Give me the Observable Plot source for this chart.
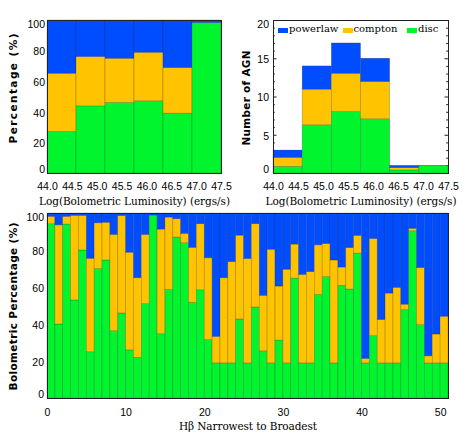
<!DOCTYPE html>
<html><head><meta charset="utf-8">
<script src="https://cdn.jsdelivr.net/npm/d3@7"></script>
<script src="https://cdn.jsdelivr.net/npm/@observablehq/plot@0.6"></script>
<style>
html,body{margin:0;padding:0;background:#fff;}
#wrap{position:relative;width:471px;height:436px;overflow:hidden;background:#fff;}
#wrap svg{position:absolute;left:0;top:0;}
.leg{position:absolute;font-family:"DejaVu Serif",serif;font-size:10px;line-height:10px;white-space:nowrap;color:#000;}
.sw{position:absolute;width:10px;height:5px;}
</style></head><body><div id="wrap"></div>
<script>
// ---------- shared ----------
const seriesNames = ["powerlaw", "compton", "disc"];
const seriesColors = ["#004cff", "#ffc300", "#00f52c"];
const stackOrder = ["disc", "compton", "powerlaw"];

// ---------- top panels: luminosity bins ----------
const lumTickLabels = ["44.0", "44.5", "45.0", "45.5", "46.0", "46.5", "47.0", "47.5"];
const lumBins = [0, 1, 2, 3, 4, 5];
// percentage panel
const lumPctDisc     = [27.2, 43.9, 46.1, 47.2, 39.1, 98.3];
const lumPctCompton  = [38.0, 32.2, 28.9, 31.7, 29.8, 0.0];
const lumPctPowerlaw = [34.8, 23.9, 25.0, 21.1, 31.1, 1.7];
// number of AGN panel
const lumNumDisc     = [0.87, 6.30, 8.04, 7.09, 0.40, 0.98];
const lumNumCompton  = [1.17, 4.66, 5.00, 4.87, 0.30, 0.00];
const lumNumPowerlaw = [0.96, 3.04, 3.96, 3.04, 0.30, 0.02];
const numMajorTicks = [5, 10, 15];
const numMinorTicks = [1, 2, 3, 4, 6, 7, 8, 9, 11, 12, 13, 14, 16, 17, 18, 19];

// ---------- bottom panel: Hbeta narrowest to broadest ----------
const hbDisc = [94.2, 40.0, 94.0, 53.0, 80.0, 25.0, 70.0, 74.6, 36.4, 46.0,
  26.0, 22.0, 51.0, 98.9, 34.8, 58.7, 87.0, 84.0, 51.7, 58.5,
  31.6, 19.0, 19.0, 19.0, 42.7, 19.0, 49.2, 25.5, 19.0, 31.3,
  19.0, 64.8, 19.0, 19.0, 56.0, 65.6, 19.0, 60.9, 58.9, 78.3,
  19.0, 33.7, 19.0, 19.0, 19.0, 47.8, 90.4, 39.7, 19.0, 19.0, 19.0];
const hbCompton = [4.0, 53.6, 4.2, 45.7, 18.7, 50.5, 24.7, 20.4, 52.0, 52.6,
  52.8, 43.0, 37.4, 0.0, 56.5, 39.1, 9.9, 5.0, 29.7, 35.7,
  44.2, 14.3, 46.0, 54.7, 45.3, 56.4, 45.0, 30.0, 61.4, 29.2,
  50.6, 18.4, 47.8, 49.3, 26.8, 17.9, 55.6, 9.9, 22.4, 9.6,
  2.4, 52.5, 23.4, 37.7, 40.8, 2.9, 1.3, 30.8, 3.8, 15.6, 25.2];
const hbPowerlaw = [1.8, 6.4, 1.8, 1.3, 1.3, 24.5, 5.3, 5.0, 11.6, 1.4,
  21.2, 35.0, 11.6, 1.1, 8.7, 2.2, 3.1, 11.0, 18.6, 5.8,
  24.2, 66.7, 35.0, 26.3, 12.0, 24.6, 5.8, 44.5, 19.6, 39.5,
  30.4, 16.8, 33.2, 31.7, 17.2, 16.5, 25.4, 29.2, 18.7, 12.1,
  78.6, 13.8, 57.6, 43.3, 40.2, 49.3, 8.3, 29.5, 77.2, 65.4, 55.8];
const hbTicks = [0, 10, 20, 30, 40, 50];

// ---------- text ----------
const lumXTitle = "Log(Bolometric Luminosity) (ergs/s)";
const pctYTitle = "Percentage (%)";
const numYTitle = "Number of AGN";
const hbYTitle = "Bolometric Percentage (%)";
const hbXTitle = "H\u03B2 Narrowest to Broadest";

function toRows(bins, disc, compton, powerlaw) {
  const out = [];
  bins.forEach((b, i) => {
    out.push({bin: b, series: "disc", value: disc[i]});
    out.push({bin: b, series: "compton", value: compton[i]});
    out.push({bin: b, series: "powerlaw", value: powerlaw[i]});
  });
  return out;
}
const pctRows = toRows(lumBins, lumPctDisc, lumPctCompton, lumPctPowerlaw);
const numRows = toRows(lumBins, lumNumDisc, lumNumCompton, lumNumPowerlaw);
const hbRows = toRows(hbDisc.map((_, i) => i), hbDisc, hbCompton, hbPowerlaw);

const tickFont = "Liberation Sans, Arial, sans-serif";
const titleFont = "DejaVu Serif, serif";
const yTitleFont = "DejaVu Sans, sans-serif";
const W = 471, H = 436;
const colorScale = {domain: seriesNames, range: seriesColors};
const barOpts = {x1: "bin", x2: d => d.bin + 1, y: "value", fill: "series", order: stackOrder,
  stroke: "#222", strokeOpacity: 0.35, strokeWidth: 0.6};
const lumTickPos = lumTickLabels.map((_, k) => k * 6 / 7);
const lumFmt = d => lumTickLabels[Math.round(d * 7 / 6)];

function yAxes(mid, top, bottom, pad) {
  const o = {tickSize: 0, tickPadding: pad, label: null, fontSize: 10.5, fontFamily: tickFont};
  return [
    Plot.axisY(mid, {...o, dy: 1}),
    Plot.axisY([top], {...o, dy: 4}),
    Plot.axisY([bottom], {...o, dy: -3.5})
  ];
}
function xAxis(ticks, fmt, pad) {
  return Plot.axisX(ticks, {tickSize: 0, tickPadding: pad, label: null, fontSize: 10.5, fontFamily: tickFont, tickFormat: fmt});
}
function xTitle(t, dy) {
  return Plot.text([t], {frameAnchor: "bottom", dy, textAnchor: "middle", lineAnchor: "middle", fontFamily: titleFont, fontSize: 10.5, fill: "#000"});
}
function yTitle(t, dx, dy) {
  return Plot.text([t], {frameAnchor: "left", dx, dy, rotate: -90, textAnchor: "middle", lineAnchor: "middle", fontFamily: yTitleFont, fontWeight: "bold", fontSize: 10.5, fill: "#000"});
}
const baseStyle = {background: "transparent", fontFamily: tickFont, fontSize: "10.5px", color: "#000", overflow: "visible"};

// ---------- panel 1: percentage ----------
const p1 = Plot.plot({
  width: W, height: H, style: baseStyle,
  marginLeft: 47, marginRight: 250, marginTop: 20, marginBottom: 263,
  x: {domain: [0, 6]}, y: {domain: [0, 100], label: null},
  color: colorScale,
  marks: [
    Plot.rectY(pctRows, barOpts),
    Plot.frame({stroke: "#222", strokeWidth: 1}),
    xAxis(lumTickPos, lumFmt, 9.5),
    ...yAxes([20, 40, 60, 80], 100, 0, 2.5),
    xTitle(lumXTitle, 28.5),
    yTitle(pctYTitle, -33.5, -8.5)
  ]
});

// ---------- panel 2: number of AGN ----------
const p2 = Plot.plot({
  width: W, height: H, style: baseStyle,
  marginLeft: 273, marginRight: 23, marginTop: 20, marginBottom: 263,
  x: {domain: [0, 6]}, y: {domain: [0, 20], label: null},
  color: colorScale,
  marks: [
    Plot.ruleY(numMajorTicks, {insetRight: 171.5, stroke: "#222"}),
    Plot.ruleY(numMajorTicks, {insetLeft: 171.5, stroke: "#222"}),
    Plot.ruleY(numMinorTicks, {insetRight: 173.2, stroke: "#222"}),
    Plot.ruleY(numMinorTicks, {insetLeft: 173.2, stroke: "#222"}),
    Plot.rectY(numRows, barOpts),
    Plot.frame({stroke: "#222", strokeWidth: 1}),
    xAxis(lumTickPos, lumFmt, 9.5),
    ...yAxes([5, 10, 15], 20, 0, 4.5),
    xTitle(lumXTitle, 28.5),
    yTitle(numYTitle, -26.5, 1)
  ]
});

// ---------- panel 3: Hbeta ----------
const p3 = Plot.plot({
  width: W, height: H, style: baseStyle,
  marginLeft: 47, marginRight: 23, marginTop: 213, marginBottom: 38,
  x: {domain: [0, 51]}, y: {domain: [0, 100], label: null},
  color: colorScale,
  marks: [
    Plot.rectY(hbRows, barOpts),
    Plot.frame({stroke: "#222", strokeWidth: 1}),
    xAxis(hbTicks, d => String(d), 10),
    ...yAxes([20, 40, 60, 80], 100, 0, 3.5),
    xTitle(hbXTitle, 28),
    yTitle(hbYTitle, -33.7, 0.5)
  ]
});

const wrap = document.getElementById("wrap");
[p1, p2, p3].forEach(p => wrap.appendChild(p));

// stretch titles to the reference widths
const titleLengths = new Map([[lumXTitle, 191], [pctYTitle, 110], [numYTitle, 95], [hbYTitle, 168], [hbXTitle, 138]]);
wrap.querySelectorAll("text").forEach(t => {
  const L = titleLengths.get(t.textContent);
  if (L) { t.setAttribute("textLength", L); t.setAttribute("lengthAdjust", "spacing"); }
});

// legend (top-right panel)
const legendLeft = [278, 342.5, 407];
seriesNames.forEach((s, i) => {
  const sw = document.createElement("div");
  sw.className = "sw";
  sw.style.left = legendLeft[i] + "px";
  sw.style.top = "27.5px";
  sw.style.background = seriesColors[i];
  wrap.appendChild(sw);
  const tx = document.createElement("div");
  tx.className = "leg";
  tx.style.left = (legendLeft[i] + 11) + "px";
  tx.style.top = "24px";
  tx.textContent = s;
  wrap.appendChild(tx);
});
</script></body></html>
